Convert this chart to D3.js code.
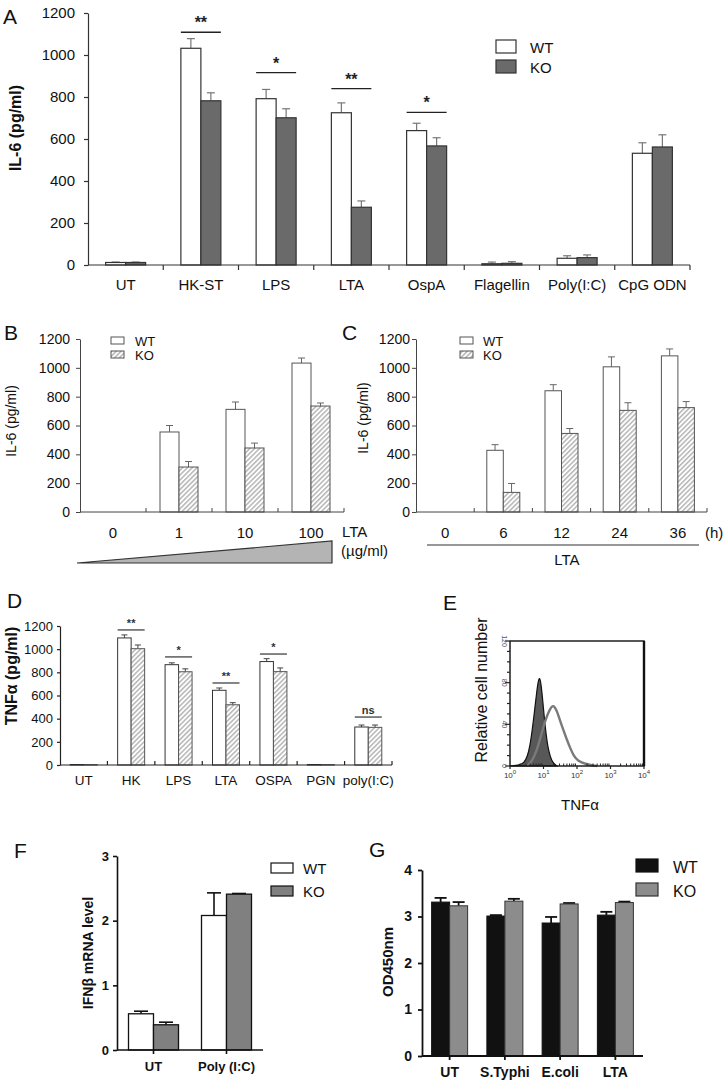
<!DOCTYPE html>
<html><head><meta charset="utf-8">
<script src="https://cdn.jsdelivr.net/npm/d3@7"></script>
<style>
body{margin:0;background:#fff;}
svg{display:block;font-family:"Liberation Sans",Arial,Helvetica,sans-serif;}
</style></head><body>
<svg id="fig" width="725" height="1082"></svg>
<script>
// ================= DATA =================
const seriesNames = ["WT", "KO"];

// Panel A – IL-6 (pg/ml)
const aCategories = ["UT","HK-ST","LPS","LTA","OspA","Flagellin","Poly(I:C)","CpG ODN"];
const aWT   = [12, 1032, 792, 725, 640, 6, 32, 532];
const aWTHi = [14, 1078, 836, 772, 675, 14, 44, 582];
const aKO   = [12, 782, 701, 275, 567, 8, 35, 562];
const aKOHi = [14, 820, 744, 305, 606, 16, 48, 620];
const aSigCats = ["HK-ST","LPS","LTA","OspA"];
const aSigLabels = ["**","*","**","*"];
const aSigLevels = [1108, 916, 840, 727];
const aYTicks = [0,200,400,600,800,1000,1200];

// Panel B – LTA dose
const bCategories = ["0","1","10","100"];
const bWT   = [0, 555, 712, 1033];
const bWTHi = [0, 600, 763, 1068];
const bKO   = [0, 312, 444, 735];
const bKOHi = [0, 350, 478, 756];
const bYTicks = [0,200,400,600,800,1000,1200];

// Panel C – LTA time course (h)
const cCategories = ["0","6","12","24","36"];
const cWT   = [0, 428, 841, 1007, 1083];
const cWTHi = [0, 467, 883, 1076, 1131];
const cKO   = [0, 136, 545, 705, 724];
const cKOHi = [0, 198, 579, 758, 766];
const cYTicks = [0,200,400,600,800,1000,1200];

// Panel D – TNFα (pg/ml)
const dCategories = ["UT","HK","LPS","LTA","OSPA","PGN","poly(I:C)"];
const dWT   = [4, 1097, 866, 645, 893, 4, 328];
const dWTHi = [4, 1123, 882, 665, 918, 4, 345];
const dKO   = [3, 1004, 805, 520, 806, 3, 325];
const dKOHi = [3, 1036, 830, 538, 838, 3, 345];
const dSigCats = ["HK","LPS","LTA","OSPA","poly(I:C)"];
const dSigLabels = ["**","*","**","*","ns"];
const dSigLevels = [1166, 933, 708, 958, 414];
const dYTicks = [0,200,400,600,800,1000,1200];

// Panel E – flow histogram (log10 TNFα, relative cell number)
const eFilledLog   = [0, 0.3, 0.42, 0.52, 0.6, 0.67, 0.74, 0.8, 0.85, 0.89, 0.93, 0.98, 1.03, 1.08, 1.13, 1.2, 1.28, 1.4];
const eFilledCount = [0, 1, 3, 9, 20, 36, 55, 72, 83, 85, 78, 62, 44, 30, 18, 9, 3, 0];
const eOpenLog     = [0.5, 0.65, 0.8, 0.9, 1.0, 1.1, 1.2, 1.27, 1.33, 1.4, 1.5, 1.6, 1.7, 1.8, 1.9, 2.0, 2.1, 2.25, 2.4, 2.6];
const eOpenCount   = [0, 4, 15, 26, 38, 48, 55, 58, 57, 53, 43, 34, 25, 17, 10, 6, 4, 2, 1, 0];
const eXDecades = [0,1,2,3,4];
const eYTicks = [0,40,80,120];

// Panel F – IFNβ mRNA level
const fCategories = ["UT","Poly (I:C)"];
const fWT   = [0.56, 2.08];
const fWTHi = [0.60, 2.43];
const fKO   = [0.39, 2.41];
const fKOHi = [0.43, 2.42];
const fYTicks = [0,1,2,3];

// Panel G – OD450nm
const gCategories = ["UT","S.Typhi","E.coli","LTA"];
const gWT   = [3.31, 3.01, 2.86, 3.03];
const gWTHi = [3.40, 3.03, 2.99, 3.10];
const gKO   = [3.23, 3.33, 3.27, 3.30];
const gKOHi = [3.31, 3.38, 3.29, 3.32];
const gYTicks = [0,1,2,3,4];

// ================= DRAWING =================
const FONT = '"Liberation Sans", Arial, Helvetica, sans-serif';
const svg = d3.select("#fig");
const defs = svg.append("defs");
const pat = defs.append("pattern").attr("id","hatch")
  .attr("patternUnits","userSpaceOnUse").attr("width",3.4).attr("height",3.4)
  .attr("patternTransform","rotate(45)");
pat.append("rect").attr("width",3.4).attr("height",3.4).attr("fill","#fff");
pat.append("line").attr("x1",0.8).attr("y1",0).attr("x2",0.8).attr("y2",3.4)
  .attr("stroke","#9a9a9a").attr("stroke-width",1.1);

function txt(g, x, y, s, o) {
  o = o || {};
  const t = g.append("text").attr("x",x).attr("y",y).text(s)
    .attr("font-family",FONT).attr("font-size",o.size||14)
    .attr("font-weight",o.weight||"normal").attr("fill",o.fill||"#111")
    .attr("text-anchor",o.anchor||"start");
  if (o.rotate) t.attr("transform",`rotate(${o.rotate},${x},${y})`);
  return t;
}

function barPanel(cfg) {
  const g = svg.append("g");
  const x = d3.scaleBand().domain(cfg.cats).range(cfg.xRange);
  const y = d3.scaleLinear().domain(cfg.yDomain).range(cfg.yRange);
  const cx = c => x(c) + x.bandwidth() / 2;
  const sx = c => d3.scaleBand().domain(seriesNames).range([cx(c) - cfg.barW, cx(c) + cfg.barW]);
  const data = [];
  cfg.cats.forEach((c, i) => {
    data.push({c, s:"WT", v:cfg.wt[i], hi:cfg.wtHi[i]});
    data.push({c, s:"KO", v:cfg.ko[i], hi:cfg.koHi[i]});
  });
  const shown = data.filter(d => d.v > 0);

  // error bars
  const eg = g.append("g").attr("stroke", cfg.errColor).attr("stroke-width", cfg.errW || 1).attr("fill","none");
  shown.filter(d => d.hi > d.v).forEach(d => {
    const xc = sx(d.c)(d.s) + cfg.barW / 2;
    eg.append("line").attr("x1",xc).attr("x2",xc).attr("y1",y(d.v)).attr("y2",y(d.hi));
    eg.append("line").attr("x1",xc - cfg.cap/2).attr("x2",xc + cfg.cap/2).attr("y1",y(d.hi)).attr("y2",y(d.hi));
  });

  // bars
  g.append("g").selectAll("rect").data(shown).join("rect")
    .attr("x", d => sx(d.c)(d.s)).attr("width", cfg.barW)
    .attr("y", d => y(d.v)).attr("height", d => y(0) - y(d.v))
    .attr("fill", d => cfg.fill[d.s]).attr("stroke", d => cfg.stroke[d.s])
    .attr("stroke-width", cfg.barSW);

  // y axis
  const ya = g.append("g").attr("transform",`translate(${cfg.xRange[0]},0)`)
    .call(d3.axisLeft(y).tickValues(cfg.yTicks).tickSize(cfg.yTick).tickPadding(cfg.yPad)
      .tickSizeOuter(0).tickFormat(d3.format("d")));
  ya.select(".domain").attr("stroke",cfg.axisColor).attr("stroke-width",cfg.axisW);
  ya.selectAll(".tick line").attr("stroke",cfg.axisColor).attr("stroke-width",cfg.axisW);
  ya.selectAll(".tick text").attr("font-family",FONT).attr("font-size",cfg.yFont)
    .attr("font-weight",cfg.bold ? "bold" : "normal").attr("fill","#111");

  // x axis line
  const y0 = y(0);
  g.append("line").attr("x1",cfg.xRange[0]).attr("x2",cfg.xRange[1]).attr("y1",y0).attr("y2",y0)
    .attr("stroke",cfg.axisColor).attr("stroke-width",cfg.axisW);
  const tickXs = cfg.xTickMode === "center" ? cfg.cats.map(cx) : cfg.cats.map(c => x(c) + x.step());
  g.append("g").selectAll("line").data(tickXs).join("line")
    .attr("x1",d=>d).attr("x2",d=>d).attr("y1",y0).attr("y2",y0 + cfg.xTick)
    .attr("stroke",cfg.axisColor).attr("stroke-width",cfg.axisW);

  // category labels
  g.append("g").selectAll("text").data(cfg.cats).join("text")
    .attr("x", c => cx(c)).attr("y", cfg.labelY).text(c => c)
    .attr("text-anchor","middle").attr("font-family",FONT).attr("font-size",cfg.xFont)
    .attr("font-weight",cfg.bold ? "bold" : "normal").attr("fill","#111");

  // significance brackets
  if (cfg.sigCats) {
    cfg.sigCats.forEach((c, i) => {
      const s = sx(c);
      const yl = y(cfg.sigLevels[i]);
      g.append("line").attr("x1", s("WT")).attr("x2", s("KO") + cfg.barW).attr("y1",yl).attr("y2",yl)
        .attr("stroke",cfg.sigColor).attr("stroke-width",cfg.sigW);
      txt(g, cx(c), yl - cfg.sigGap, cfg.sigLabels[i], {size:cfg.sigFont, weight:"bold", anchor:"middle", fill:cfg.sigColor});
    });
  }
  return {g, x, y, cx};
}

function legend(o) {
  const g = svg.append("g");
  seriesNames.forEach((s, i) => {
    g.append("rect").attr("x",o.x).attr("y",o.y + i*o.dy).attr("width",o.w).attr("height",o.h)
      .attr("fill",o.fill[s]).attr("stroke",o.stroke[s]).attr("stroke-width",o.sw);
    txt(g, o.tx, o.ty + i*o.dy, s, {size:o.font});
  });
}

// ---------- Panel A ----------
const aFill = {WT:"#fff", KO:"#6a6a6a"};
const aStroke = {WT:"#333", KO:"#333"};
barPanel({cats:aCategories, wt:aWT, wtHi:aWTHi, ko:aKO, koHi:aKOHi,
  xRange:[88,690], yDomain:[0,1200], yRange:[265,13], yTicks:aYTicks,
  barW:20, cap:8, errColor:"#777", errW:1.2,
  fill:aFill, stroke:aStroke, barSW:1.2,
  yTick:4, yPad:9, yFont:15, axisColor:"#333", axisW:1.2,
  xTick:5, xFont:15, labelY:290,
  sigCats:aSigCats, sigLabels:aSigLabels, sigLevels:aSigLevels,
  sigColor:"#222", sigW:1.4, sigFont:16, sigGap:4});
txt(svg, 3, 24, "A", {size:21});
txt(svg, 21, 128, "IL-6 (pg/ml)", {size:16, weight:"bold", anchor:"middle", rotate:-90});
legend({x:496, y:40, dy:20, w:20, h:13, tx:530, ty:53, font:15, fill:aFill, stroke:aStroke, sw:1.2});

// ---------- Panel B ----------
const hFill = {WT:"#fff", KO:"url(#hatch)"};
const hStroke = {WT:"#555", KO:"#555"};
barPanel({cats:bCategories, wt:bWT, wtHi:bWTHi, ko:bKO, koHi:bKOHi,
  xRange:[80,344], yDomain:[0,1200], yRange:[512,339], yTicks:bYTicks,
  barW:19, cap:7, errColor:"#666", errW:1,
  fill:hFill, stroke:hStroke, barSW:1,
  yTick:4, yPad:6, yFont:14, axisColor:"#444", axisW:1,
  xTick:-4, xFont:15, labelY:538});
txt(svg, 4, 340, "B", {size:21});
txt(svg, 16, 421, "IL-6 (pg/ml)", {size:14, anchor:"middle", rotate:-90});
legend({x:111, y:337, dy:14, w:13, h:7, tx:135, ty:346, font:13, fill:hFill, stroke:hStroke, sw:1});
// dose triangle
const triScale = d3.scaleLinear().domain([0,1]).range([77,332]);
svg.append("path")
  .attr("d", d3.line()([[triScale(0),563],[triScale(1),563],[triScale(1),541]]) + "Z")
  .attr("fill","#b4b4b4").attr("stroke","#333").attr("stroke-width",1.2);
txt(svg, 342, 537, "LTA", {size:15});
txt(svg, 341, 556, "(µg/ml)", {size:15});

// ---------- Panel C ----------
barPanel({cats:cCategories, wt:cWT, wtHi:cWTHi, ko:cKO, koHi:cKOHi,
  xRange:[416,707], yDomain:[0,1200], yRange:[512,339], yTicks:cYTicks,
  barW:16.5, cap:7, errColor:"#666", errW:1,
  fill:hFill, stroke:hStroke, barSW:1,
  yTick:4, yPad:2, yFont:14, axisColor:"#444", axisW:1,
  xTick:-4, xFont:15, labelY:538});
txt(svg, 342, 340, "C", {size:21});
txt(svg, 368, 418, "IL-6 (pg/ml)", {size:14, anchor:"middle", rotate:-90});
legend({x:460, y:337, dy:14, w:13, h:7, tx:483, ty:346, font:13, fill:hFill, stroke:hStroke, sw:1});
txt(svg, 705, 538, "(h)", {size:15});
svg.append("line").attr("x1",427).attr("x2",699).attr("y1",545).attr("y2",545).attr("stroke","#333").attr("stroke-width",1.2);
txt(svg, 567, 565, "LTA", {size:15, anchor:"middle"});

// ---------- Panel D ----------
barPanel({cats:dCategories, wt:dWT, wtHi:dWTHi, ko:dKO, koHi:dKOHi,
  xRange:[60,392], yDomain:[0,1200], yRange:[765,626], yTicks:dYTicks,
  barW:13.5, cap:6, errColor:"#444", errW:1,
  fill:hFill, stroke:{WT:"#333", KO:"#555"}, barSW:1,
  yTick:3, yPad:4, yFont:13, axisColor:"#222", axisW:1.2,
  xTick:-4, xFont:13.5, labelY:785,
  sigCats:dSigCats, sigLabels:dSigLabels, sigLevels:dSigLevels,
  sigColor:"#333", sigW:1.2, sigFont:11, sigGap:3});
txt(svg, 7, 608, "D", {size:21});
txt(svg, 17, 676, "TNFα (pg/ml)", {size:16, weight:"bold", anchor:"middle", rotate:-90});

// ---------- Panel E ----------
(function(){
  const g = svg.append("g");
  const x = d3.scaleLinear().domain([0,4]).range([510,644]);
  const y = d3.scaleLinear().domain([0,120]).range([766,641]);
  const fPts = eFilledLog.map((l,i)=>[l, eFilledCount[i]]);
  const oPts = eOpenLog.map((l,i)=>[l, eOpenCount[i]]);
  g.append("path").datum(fPts)
    .attr("d", d3.area().x(d=>x(d[0])).y0(y(0)).y1(d=>y(d[1])).curve(d3.curveBasis))
    .attr("fill","#585858").attr("stroke","#111").attr("stroke-width",1.2);
  g.append("path").datum(oPts)
    .attr("d", d3.line().x(d=>x(d[0])).y(d=>y(d[1])).curve(d3.curveBasis))
    .attr("fill","none").attr("stroke","#7a7a7a").attr("stroke-width",2.4);
  // frame
  g.append("rect").attr("x",x(0)).attr("y",y(120)).attr("width",x(4)-x(0)).attr("height",y(0)-y(120))
    .attr("fill","none").attr("stroke","#111").attr("stroke-width",1.4);
  g.append("line").attr("x1",x(4)).attr("x2",x(4)).attr("y1",y(120)).attr("y2",y(0)).attr("stroke","#111").attr("stroke-width",2.4);
  // y ticks
  const yMinor = d3.range(0,121,10);
  g.append("g").selectAll("line").data(yMinor).join("line")
    .attr("x1",x(0)).attr("x2",d=> eYTicks.includes(d) ? x(0)-5 : x(0)-3)
    .attr("y1",d=>y(d)).attr("y2",d=>y(d)).attr("stroke","#222").attr("stroke-width",1.2);
  eYTicks.forEach(v => txt(g, x(0)-8, y(v), String(v), {size:7, anchor:"middle", fill:"#555", rotate:90}));
  // x ticks (log minor)
  const xMinor = [];
  eXDecades.slice(0,-1).forEach(dd => { for (let k=2;k<=9;k++) xMinor.push(dd + Math.log10(k)); });
  g.append("g").selectAll("line").data(xMinor).join("line")
    .attr("x1",d=>x(d)).attr("x2",d=>x(d)).attr("y1",y(0)).attr("y2",y(0)-2.5)
    .attr("stroke","#222").attr("stroke-width",1);
  g.append("g").selectAll("line").data(eXDecades).join("line")
    .attr("x1",d=>x(d)).attr("x2",d=>x(d)).attr("y1",y(0)).attr("y2",y(0)+3)
    .attr("stroke","#222").attr("stroke-width",1.2);
  eXDecades.forEach(dd => {
    const t = g.append("text").attr("x",x(dd)).attr("y",y(0)+12).attr("text-anchor","middle")
      .attr("font-family",FONT).attr("font-size",8).attr("fill","#333");
    t.append("tspan").text("10");
    t.append("tspan").attr("dy",-4).attr("font-size",6).text(String(dd));
  });
  txt(g, 443, 610, "E", {size:21});
  txt(g, 580, 810, "TNFα", {size:15, anchor:"middle"});
  txt(g, 487, 690, "Relative cell number", {size:16, anchor:"middle", rotate:-90});
})();

// ---------- Panel F ----------
const fFill = {WT:"#fff", KO:"#808080"};
const fStroke = {WT:"#111", KO:"#111"};
barPanel({cats:fCategories, wt:fWT, wtHi:fWTHi, ko:fKO, koHi:fKOHi,
  xRange:[117,263], yDomain:[0,3], yRange:[1050,856], yTicks:fYTicks,
  barW:25, cap:14, errColor:"#111", errW:1.6,
  fill:fFill, stroke:fStroke, barSW:1.3,
  yTick:4, yPad:4, yFont:13, axisColor:"#111", axisW:1.6,
  xTick:4, xFont:13, labelY:1071, xTickMode:"center", bold:true});
txt(svg, 14, 858, "F", {size:21});
txt(svg, 93, 953, "IFNβ mRNA level", {size:14, weight:"bold", anchor:"middle", rotate:-90});
legend({x:271, y:863, dy:23, w:22, h:10, tx:303, ty:874, font:15, fill:fFill, stroke:fStroke, sw:1.2});

// ---------- Panel G ----------
const gFill = {WT:"#111", KO:"#8c8c8c"};
const gStroke = {WT:"#111", KO:"#333"};
barPanel({cats:gCategories, wt:gWT, wtHi:gWTHi, ko:gKO, koHi:gKOHi,
  xRange:[422,643], yDomain:[0,4], yRange:[1056,870], yTicks:gYTicks,
  barW:18, cap:12, errColor:"#111", errW:1.8,
  fill:gFill, stroke:gStroke, barSW:1,
  yTick:4, yPad:6, yFont:14, axisColor:"#111", axisW:1.8,
  xTick:4, xFont:14, labelY:1077, xTickMode:"center", bold:true});
txt(svg, 369, 857, "G", {size:21});
txt(svg, 393, 962, "OD450nm", {size:15, weight:"bold", anchor:"middle", rotate:-90});
legend({x:636, y:859, dy:24, w:22, h:13, tx:673, ty:873, font:16, fill:gFill, stroke:gStroke, sw:1.2});
</script>
</body></html>
